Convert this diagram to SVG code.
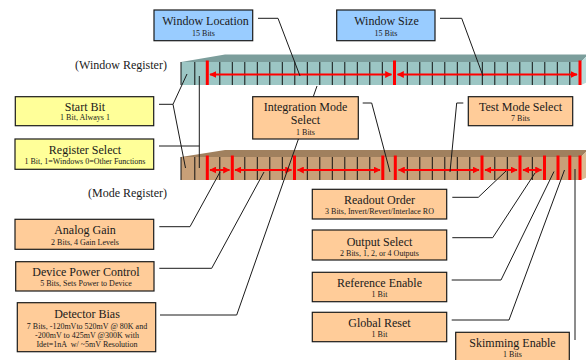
<svg xmlns="http://www.w3.org/2000/svg" width="586" height="360" viewBox="0 0 586 360">
<defs>
<style>
.t{font-family:"Liberation Serif","Times New Roman",serif;font-size:12px;fill:#1a1a1a;text-anchor:middle}
.s{font-family:"Liberation Serif","Times New Roman",serif;font-size:8px;fill:#1a1a1a;text-anchor:middle}
.lbl{font-family:"Liberation Serif","Times New Roman",serif;font-size:12px;fill:#1a1a1a;text-anchor:middle}
.blue{fill:#99ccff;stroke:#1a1a1a;stroke-width:1.2}
.yel{fill:#ffff99;stroke:#1a1a1a;stroke-width:1.2}
.pch{fill:#ffcc99;stroke:#1a1a1a;stroke-width:1.2}
.div{stroke:#111;stroke-width:1}
.bar{fill:#ff0000}
.arr{stroke:#ff0000;stroke-width:2;fill:none;marker-start:url(#ah);marker-end:url(#ah)}
.con{stroke:#1a1a1a;stroke-width:1;fill:none}
</style>
<marker id="ah" viewBox="0 0 10 10" refX="9" refY="5" markerWidth="3.5" markerHeight="3.5" orient="auto-start-reverse" markerUnits="strokeWidth">
<path d="M0,0 L10,5 L0,10 z" fill="#ff0000"/>
</marker>
</defs>

<g id="window-register">
<polygon points="181,62 225,54.5 588,54.5 581,62" fill="#7c9e9c"/>
<rect x="181" y="62" width="400" height="23" fill="#9cc6c4"/>
<polygon points="581,62 588,55 588,82 581,85" fill="#b9dcda"/>
<g class="div">
<line x1="181" y1="62" x2="181" y2="85"/>
<line x1="194.8" y1="62" x2="194.8" y2="85"/>
<line x1="219.8" y1="62" x2="219.8" y2="85"/>
<line x1="232.3" y1="62" x2="232.3" y2="85"/>
<line x1="244.8" y1="62" x2="244.8" y2="85"/>
<line x1="257.3" y1="62" x2="257.3" y2="85"/>
<line x1="269.8" y1="62" x2="269.8" y2="85"/>
<line x1="282.3" y1="62" x2="282.3" y2="85"/>
<line x1="294.8" y1="62" x2="294.8" y2="85"/>
<line x1="307.3" y1="62" x2="307.3" y2="85"/>
<line x1="319.8" y1="62" x2="319.8" y2="85"/>
<line x1="332.3" y1="62" x2="332.3" y2="85"/>
<line x1="344.8" y1="62" x2="344.8" y2="85"/>
<line x1="357.3" y1="62" x2="357.3" y2="85"/>
<line x1="369.8" y1="62" x2="369.8" y2="85"/>
<line x1="382.3" y1="62" x2="382.3" y2="85"/>
<line x1="407.3" y1="62" x2="407.3" y2="85"/>
<line x1="419.8" y1="62" x2="419.8" y2="85"/>
<line x1="432.3" y1="62" x2="432.3" y2="85"/>
<line x1="444.8" y1="62" x2="444.8" y2="85"/>
<line x1="457.3" y1="62" x2="457.3" y2="85"/>
<line x1="469.8" y1="62" x2="469.8" y2="85"/>
<line x1="482.3" y1="62" x2="482.3" y2="85"/>
<line x1="494.8" y1="62" x2="494.8" y2="85"/>
<line x1="507.3" y1="62" x2="507.3" y2="85"/>
<line x1="519.8" y1="62" x2="519.8" y2="85"/>
<line x1="532.3" y1="62" x2="532.3" y2="85"/>
<line x1="544.8" y1="62" x2="544.8" y2="85"/>
<line x1="557.3" y1="62" x2="557.3" y2="85"/>
<line x1="569.8" y1="62" x2="569.8" y2="85"/>
</g>
<rect class="bar" x="205.8" y="60.5" width="3" height="24.5"/>
<rect class="bar" x="393" y="60.5" width="3" height="24.5"/>
<rect class="bar" x="578.5" y="60.5" width="3" height="24.5"/>
<line class="arr" x1="210" y1="74.5" x2="391.5" y2="74.5"/>
<line class="arr" x1="397.5" y1="74.5" x2="577" y2="74.5"/>
</g>

<g id="mode-register">
<polygon points="181,157 225,150 588,150 581,157" fill="#a0805e"/>
<rect x="181" y="157" width="400" height="23" fill="#c8a078"/>
<polygon points="581,157 588,150 588,177 581,180" fill="#dcbb92"/>
<g class="div">
<line x1="181" y1="157" x2="181" y2="180"/>
<line x1="194.8" y1="157" x2="194.8" y2="180"/>
<line x1="219.8" y1="157" x2="219.8" y2="180"/>
<line x1="244.8" y1="157" x2="244.8" y2="180"/>
<line x1="257.3" y1="157" x2="257.3" y2="180"/>
<line x1="269.8" y1="157" x2="269.8" y2="180"/>
<line x1="282.3" y1="157" x2="282.3" y2="180"/>
<line x1="307.3" y1="157" x2="307.3" y2="180"/>
<line x1="319.8" y1="157" x2="319.8" y2="180"/>
<line x1="332.3" y1="157" x2="332.3" y2="180"/>
<line x1="344.8" y1="157" x2="344.8" y2="180"/>
<line x1="357.3" y1="157" x2="357.3" y2="180"/>
<line x1="369.8" y1="157" x2="369.8" y2="180"/>
<line x1="407.3" y1="157" x2="407.3" y2="180"/>
<line x1="419.8" y1="157" x2="419.8" y2="180"/>
<line x1="432.3" y1="157" x2="432.3" y2="180"/>
<line x1="444.8" y1="157" x2="444.8" y2="180"/>
<line x1="457.3" y1="157" x2="457.3" y2="180"/>
<line x1="469.8" y1="157" x2="469.8" y2="180"/>
<line x1="494.8" y1="157" x2="494.8" y2="180"/>
<line x1="507.3" y1="157" x2="507.3" y2="180"/>
<line x1="532.3" y1="157" x2="532.3" y2="180"/>
</g>
<rect class="bar" x="205.8" y="155.5" width="3" height="24.5"/>
<rect class="bar" x="230.8" y="155.5" width="3" height="24.5"/>
<rect class="bar" x="293" y="155.5" width="3" height="24.5"/>
<rect class="bar" x="381.3" y="155.5" width="3" height="24.5"/>
<rect class="bar" x="393.8" y="155.5" width="3" height="24.5"/>
<rect class="bar" x="480.5" y="155.5" width="3" height="24.5"/>
<rect class="bar" x="518.5" y="155.5" width="3" height="24.5"/>
<rect class="bar" x="543" y="155.5" width="3" height="24.5"/>
<rect class="bar" x="556.5" y="155.5" width="3" height="24.5"/>
<rect class="bar" x="568.3" y="155.5" width="3" height="24.5"/>
<rect class="bar" x="578.5" y="155.5" width="3" height="24.5"/>
<line class="arr" x1="210" y1="170" x2="229.5" y2="170"/>
<line class="arr" x1="235" y1="170" x2="291.5" y2="170"/>
<line class="arr" x1="297.5" y1="170" x2="380" y2="170"/>
<line class="arr" x1="398.5" y1="170" x2="479" y2="170"/>
<line class="arr" x1="485" y1="170" x2="517" y2="170"/>
<line class="arr" x1="523" y1="170" x2="541.5" y2="170"/>
</g>

<g id="register-labels">
<text class="lbl" x="121" y="68.5">(Window Register)</text>
<text class="lbl" x="127.5" y="197">(Mode Register)</text>
</g>

<g id="connectors">
<polyline class="con" points="258,18.3 278,18.3 300,76"/>
<polyline class="con" points="440,18.3 461.7,18.3 483,76"/>
<polyline class="con" points="159,104.3 173,104.3 187,74"/>
<polyline class="con" points="173,104.3 185.5,168"/>
<polyline class="con" points="159,146 199.3,146"/>
<polyline class="con" points="199.3,76 199.3,168"/>
<polyline class="con" points="362.7,103 371.7,103 390,172"/>
<polyline class="con" points="463.3,103 456.7,103 450,172"/>
<polyline class="con" points="159.3,226.7 190,226.7 220,172"/>
<polyline class="con" points="159.3,268.3 211.7,268.3 264,172"/>
<polyline class="con" points="160,315 236.7,315 317,86"/>
<polyline class="con" points="452.3,197.3 478.3,197.3 506,171"/>
<polyline class="con" points="452.3,237.7 492.7,237.7 535,173"/>
<polyline class="con" points="451.7,280 501,280 554,171.5"/>
<polyline class="con" points="451.7,320 509,320 564.5,170"/>
<polyline class="con" points="575,169 575,340"/>
</g>

<g id="window-location">
<rect class="blue" x="154" y="10" width="98.7" height="30.7"/>
<text class="t" x="205.5" y="25.3">Window Location</text>
<text class="s" x="203.5" y="36">15 Bits</text>
</g>
<g id="window-size">
<rect class="blue" x="336.7" y="10" width="98.3" height="30.7"/>
<text class="t" x="386.5" y="25.3">Window Size</text>
<text class="s" x="386" y="36">15 Bits</text>
</g>
<g id="start-bit">
<rect class="yel" x="15.3" y="96.7" width="138.4" height="29"/>
<text class="t" x="85" y="111.3">Start Bit</text>
<text class="s" x="85" y="120">1 Bit, Always 1</text>
</g>
<g id="register-select">
<rect class="yel" x="15" y="139" width="138.7" height="30.3"/>
<text class="t" x="85" y="154">Register Select</text>
<text class="s" x="85" y="164.3">1 Bit, 1=Windows 0=Other Functions</text>
</g>
<g id="integration-mode-select">
<rect class="pch" x="252.7" y="96.7" width="105.6" height="42.3"/>
<text class="t" x="305.5" y="111">Integration Mode</text>
<text class="t" x="305.5" y="124">Select</text>
<text class="s" x="305.5" y="134.7">1 Bits</text>
</g>
<g id="test-mode-select">
<rect class="pch" x="468.3" y="96.7" width="104.4" height="29"/>
<text class="t" x="520.5" y="111">Test Mode Select</text>
<text class="s" x="520.5" y="120.7">7 Bits</text>
</g>
<g id="readout-order">
<rect class="pch" x="312.3" y="189.3" width="134.4" height="29.7"/>
<text class="t" x="379.5" y="204">Readout Order</text>
<text class="s" x="379.5" y="214.3">3 Bits, Invert/Revert/Interlace RO</text>
</g>
<g id="output-select">
<rect class="pch" x="312.3" y="230" width="134.4" height="30"/>
<text class="t" x="379.5" y="245.7">Output Select</text>
<text class="s" x="379.5" y="256">2 Bits, 1, 2, or 4 Outputs</text>
</g>
<g id="reference-enable">
<rect class="pch" x="312.3" y="272.3" width="134.4" height="29.4"/>
<text class="t" x="379.5" y="287.3">Reference Enable</text>
<text class="s" x="379.5" y="296.7">1 Bit</text>
</g>
<g id="global-reset">
<rect class="pch" x="312.3" y="312.3" width="134.4" height="29.4"/>
<text class="t" x="379.5" y="327.3">Global Reset</text>
<text class="s" x="379.5" y="337.3">1 Bit</text>
</g>
<g id="skimming-enable">
<rect class="pch" x="455.7" y="332.3" width="113.6" height="32"/>
<text class="t" x="512.5" y="347.3">Skimming Enable</text>
<text class="s" x="512.5" y="357">1 Bits</text>
</g>
<g id="analog-gain">
<rect class="pch" x="15" y="219.3" width="138.7" height="30"/>
<text class="t" x="85" y="234">Analog Gain</text>
<text class="s" x="85" y="245">2 Bits, 4 Gain Levels</text>
</g>
<g id="device-power-control">
<rect class="pch" x="15.7" y="261.7" width="138.3" height="29.3"/>
<text class="t" x="86" y="276.3">Device Power Control</text>
<text class="s" x="86" y="286">5 Bits, Sets Power to Device</text>
</g>
<g id="detector-bias">
<rect class="pch" x="17.3" y="302.7" width="138.4" height="49"/>
<text class="t" x="87" y="318">Detector Bias</text>
<text class="s" x="87" y="329.3">7 Bits, -120mVto 520mV @ 80K and</text>
<text class="s" x="87" y="338.3">-200mV to 425mV @300K with</text>
<text class="s" x="87" y="347.3" xml:space="preserve">Idet=1nA  w/ ~5mV Resolution</text>
</g>
</svg>
